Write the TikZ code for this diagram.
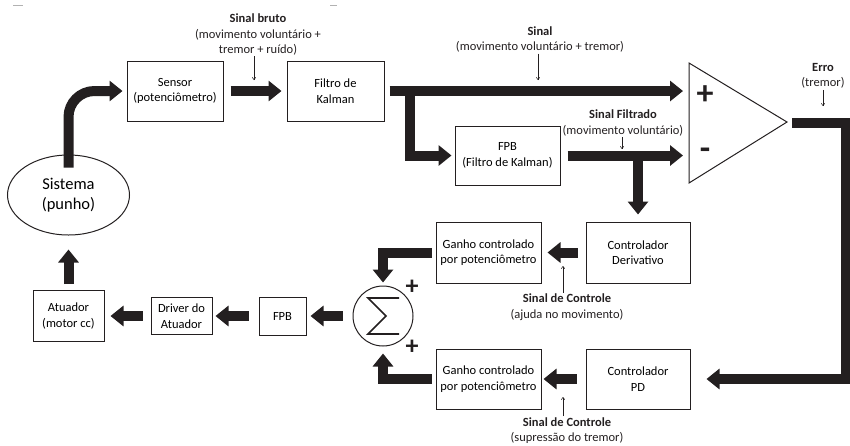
\documentclass[tikz,border=0pt]{standalone}
\usepackage{fontspec}
\setmainfont{Carlito}
\usetikzlibrary{arrows.meta,shapes.geometric,calc}

\definecolor{escuro}{HTML}{231F20}
\tikzset{
	bloco/.style={draw=escuro, line width=1pt, align=center, inner sep=2pt},
	seta/.style={draw=escuro, line width=10pt, -{Triangle[width=20pt,length=13pt]}},
	setinha/.style={draw=escuro, line width=0.5pt, -{To[length=3pt,width=4pt]}},
	rotulo/.style={align=center, inner sep=1pt, text=escuro},
	sinal/.style={inner sep=0pt, text=escuro, font=\fontsize{#1}{#1}\selectfont\bfseries}
}

\begin{document}
\begin{tikzpicture}[x=1pt, y=-1pt, font=\fontsize{12.5}{15.5}\selectfont]
	\useasboundingbox (0,0) rectangle (850,445);
	
	%%%%% BLOCOS %%%%%
	\node[bloco, ellipse, minimum width=122pt, minimum height=80pt, font=\fontsize{16.5}{20}\selectfont] (sistema) at (68.5,195) {Sistema\\(punho)};
	\node[bloco, minimum width=96pt, minimum height=60pt] (sensor) at (175,91) {Sensor\\(potenciômetro)};
	\node[bloco, minimum width=97pt, minimum height=60pt] (kalman) at (335.5,91) {Filtro de\\Kalman};
	\node[bloco, minimum width=105pt, minimum height=59pt] (fpbA) at (507.5,155.5) {FPB\\(Filtro de Kalman)};
	
	\node[bloco, minimum width=104pt, minimum height=61pt] (deriv) at (638,252.5) {Controlador\\Derivativo};
	\node[bloco, minimum width=105pt, minimum height=61pt] (ganhoA) at (488.5,252.5) {Ganho controlado\\por potenciômetro};
	\node[bloco, minimum width=104pt, minimum height=60pt] (pd) at (638,379) {Controlador\\PD};
	\node[bloco, minimum width=105pt, minimum height=60pt] (ganhoB) at (488.5,379) {Ganho controlado\\por potenciômetro};
	
	\node[bloco, circle, minimum size=60pt, inner sep=0pt] (soma) at (383,316) {};
	\draw[escuro, line width=1.6pt, line join=miter] ($(soma)+(16,-18)$) -- ++(-31,0) -- ++(18,18) -- ++(-18,18) -- ++(31,0);
	\node[bloco, minimum width=47pt, minimum height=38pt] (fpbB) at (282.5,316) {FPB};
	\node[bloco, minimum width=61pt, minimum height=37pt] (driver) at (181.5,316) {Driver do\\Atuador};
	\node[bloco, minimum width=71pt, minimum height=51pt] (atuador) at (68.5,316) {Atuador\\(motor cc)};
	
	% comparador
	\coordinate (tA) at (689,63);
	\coordinate (tB) at (689,183);
	\coordinate (tC) at (787,122);
	\draw[escuro, line width=1pt] (tA) -- (tC) -- (tB) -- cycle;
	\node[sinal=34] (mais) at (705,95) {+};
	\node[sinal=34] (menos) at (705,154) {-};
	\node[sinal=26] (maisA) at (412,287) {+};
	\node[sinal=26] (maisB) at (412,347) {+};
	
	%%%%% SETAS %%%%%
	\coordinate (inMais) at (683,91);
	\coordinate (inMenos) at (683,155.5);
	\coordinate (saida) at (792,123);
	\coordinate (canto) at (846,123);
	\coordinate (j1) at (410,91);
	\coordinate (j2) at (deriv.north |- inMenos);
	
	\draw[seta, rounded corners=26pt] ([yshift=-13pt]sistema.north) |- ([xshift=-4pt]sensor.west);
	\draw[seta] ([xshift=7pt]sensor.east) -- ([xshift=-5pt]kalman.west);
	\draw[seta] ([xshift=5pt]kalman.east) -- (inMais);
	\draw[seta] (j1) |- ([xshift=-3pt]fpbA.west);
	\draw[seta] ([xshift=7pt]fpbA.east) -- (inMenos);
	\draw[seta] (j2) -- ([yshift=7pt]deriv.north);
	\draw[seta] (saida) -- (canto) |- ([xshift=16pt]pd.east);
	
	\draw[seta] ([xshift=-8pt]deriv.west) -- ([xshift=6pt]ganhoA.east);
	\draw[seta] ([xshift=-9pt]pd.west) -- ([xshift=2pt]ganhoB.east);
	\draw[seta] ([xshift=-4pt]ganhoA.west) -| ([yshift=3pt]soma.north);
	\draw[seta] ([xshift=-4pt]ganhoB.west) -| ([yshift=-7pt]soma.south);
	
	\draw[seta] ([xshift=-10pt]soma.west) -- ([xshift=4pt]fpbB.east);
	\draw[seta] ([xshift=-10pt]fpbB.west) -- ([xshift=3pt]driver.east);
	\draw[seta] ([xshift=-8pt]driver.west) -- ([xshift=6pt]atuador.east);
	\draw[seta] ([yshift=6pt]atuador.north) -- ([yshift=-14pt]sistema.south);
	
	%%%%% ROTULOS %%%%%
	\node[rotulo] (lbBruto) at (258,34.5) {\textbf{Sinal bruto}\\(movimento voluntário +\\tremor + ruído)};
	\node[rotulo] (lbSinal) at (540,39.5) {\textbf{Sinal}\\(movimento voluntário + tremor)};
	\node[rotulo] (lbFiltrado) at (623,123) {\textbf{Sinal Filtrado}\\(movimento voluntário)};
	\node[rotulo] (lbErro) at (823,76) {\textbf{Erro}\\(tremor)};
	\node[rotulo] (lbCtrlA) at (567,307) {\textbf{Sinal de Controle}\\(ajuda no movimento)};
	\node[rotulo] (lbCtrlB) at (567,430.5) {\textbf{Sinal de Controle}\\(supressão do tremor)};
	
	\coordinate (pBruto) at (254,80);
	\coordinate (pSinal) at (538,80);
	\coordinate (pFiltrado) at (622,149);
	\coordinate (pErro) at (823,106);
	\coordinate (pCtrlA) at (563,266);
	\coordinate (pCtrlB) at (563,397);
	
	\draw[setinha] (lbBruto.south -| pBruto) -- (pBruto);
	\draw[setinha] (lbSinal.south -| pSinal) -- (pSinal);
	\draw[setinha] (lbFiltrado.south -| pFiltrado) -- (pFiltrado);
	\draw[setinha] (lbErro.south -| pErro) -- (pErro);
	\draw[setinha] (lbCtrlA.north -| pCtrlA) -- (pCtrlA);
	\draw[setinha] (lbCtrlB.north -| pCtrlB) -- (pCtrlB);
	
	% tracos cinza no topo
	\draw[black!30, line width=0.6pt] (13,5) -- (23,5);
	\draw[black!30, line width=0.6pt] (330,5) -- (337,5);
\end{tikzpicture}
\end{document}
